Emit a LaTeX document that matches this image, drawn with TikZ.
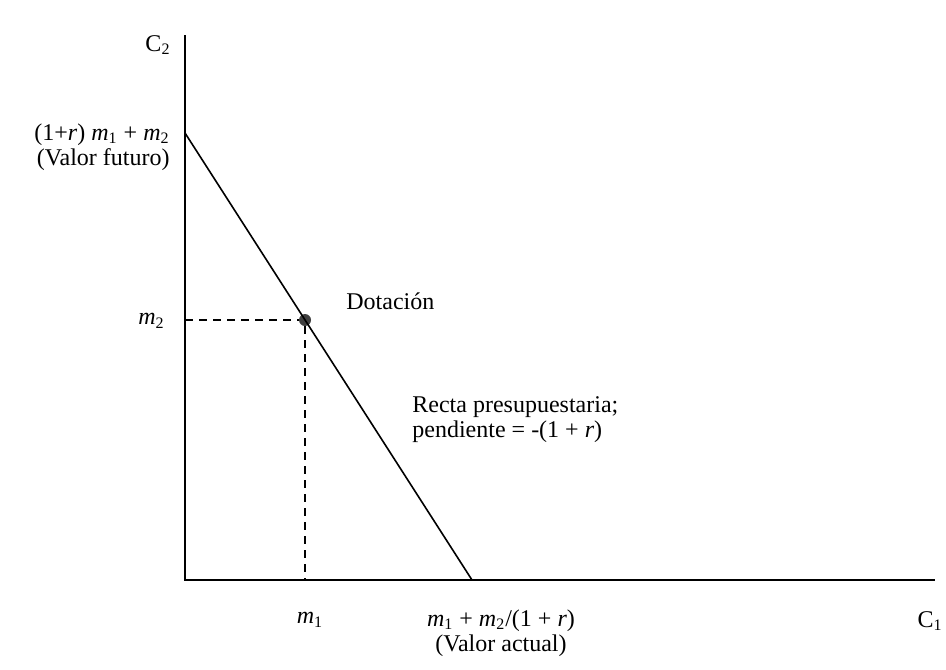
\documentclass[tikz,border=0pt]{standalone}
\usepackage{fontspec}
\setmainfont{Liberation Serif}
\usepackage{tikz}
\usetikzlibrary{positioning}

\newcommand{\mv}[1]{\textit{m}\textsubscript{#1}}

\begin{document}
\begin{tikzpicture}[
    x=0.5pt, y=-0.5pt,
    lbl/.style={inner sep=1pt, font=\fontsize{12}{12.5}\selectfont},
    axis/.style={line width=1pt},
    budget/.style={line width=0.8pt},
    guide/.style={dashed, line width=0.7pt, dash pattern=on 4pt off 3pt},
    dot/.style={circle, fill=black!75, inner sep=0pt, minimum size=6pt}
]
    \useasboundingbox (0,0) rectangle (946,669);

    \coordinate (O) at (185,580);
    \coordinate (ytop) at (185,35);
    \coordinate (xend) at (935,580);
    \coordinate (fut) at (185,133);
    \coordinate (act) at (472,580);
    \node[dot] (endow) at (305,320) {};

    \draw[axis] (ytop) -- (O) -- (xend);
    \draw[budget] (fut) -- (act);
    \draw[guide] (O |- endow) -- (endow);
    \draw[guide] (endow) -- (endow |- O);

    \node[lbl] (c2) at (158,45) {C\textsubscript{2}};
    \node[lbl, anchor=east, align=right] (futlbl) at (172,147) {(1+\textit{r}) \mv{1} + \mv{2}\\(Valor futuro)};
    \node[lbl, anchor=east] (m2) at (167,321) {\mv{2}};
    \node[lbl, anchor=west] (dotlbl) at (344,301) {Dotación};
    \node[lbl, anchor=west, align=left] (recta) at (410,420) {Recta presupuestaria;\\pendiente = -(1 + \textit{r})};
    \node[lbl] (m1) at (310,620) {\mv{1}};
    \node[lbl, align=center] (actlbl) at (501,633) {\mv{1} + \mv{2}/(1 + \textit{r})\\(Valor actual)};
    \node[lbl] (c1) at (930,621) {C\textsubscript{1}};
\end{tikzpicture}
\end{document}
